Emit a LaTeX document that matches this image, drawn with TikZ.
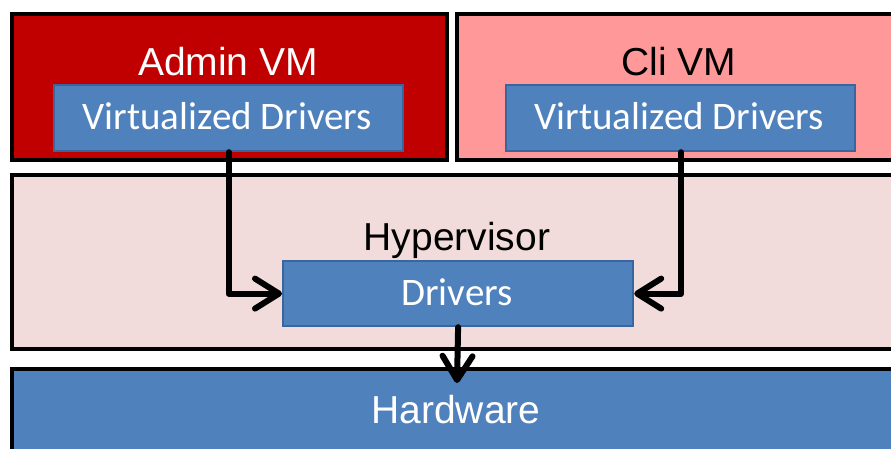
\documentclass[tikz,border=0pt]{standalone}
\usepackage{fontspec}
\setmainfont{Liberation Sans}
\newfontfamily\calib{Carlito}
\usetikzlibrary{arrows.meta}
\definecolor{adminred}{HTML}{C00000}
\definecolor{clipink}{HTML}{FF9999}
\definecolor{hyperpink}{HTML}{F2DCDB}
\definecolor{drvblue}{HTML}{4F81BD}
\definecolor{drvedge}{HTML}{3A66A0}
\tikzset{
  layer/.style={draw=black, line width=3.8pt, anchor=north west, inner sep=0pt},
  drvbox/.style={draw=drvedge, line width=2.2pt, fill=drvblue, anchor=north west,
    inner sep=0pt, minimum width=349pt, minimum height=66pt},
  bigtext/.style={anchor=base, inner sep=0pt, font=\fontsize{39}{41}\selectfont},
  drvtext/.style={bigtext, text=white, font=\calib\fontsize{39}{41}\selectfont},
  flow/.style={line width=6pt, line cap=round, line join=round,
    -{Straight Barb[length=24pt,width=30pt,line cap=round,line join=round]}}
}
\begin{document}
\begin{tikzpicture}[x=1pt,y=-1pt]
  \useasboundingbox (0,0) rectangle (891,448);
  \clip (0,0) rectangle (891,448);
  % layers
  \node[layer, fill=adminred, minimum width=435pt, minimum height=146pt] (admin) at (10,12) {};
  \node[layer, fill=clipink, minimum width=460pt, minimum height=146pt] (cli) at (455,12) {};
  \node[layer, fill=hyperpink, minimum width=900pt, minimum height=174pt] (hyper) at (10,173) {};
  \node[layer, fill=drvblue, minimum width=900pt, minimum height=100pt] (hw) at (10,367) {};
  % layer titles
  \node[bigtext, text=white] (admint) at (228,75) {Admin VM};
  \node[bigtext, text=black] (clit) at (679,75) {Cli VM};
  \node[bigtext, text=black] (hypert) at (457,250) {Hypervisor};
  \node[bigtext, text=white] (hwt) at (456,423) {Hardware};
  % driver boxes
  \node[drvbox] (vda) at (53,84) {};
  \node[drvbox] (vdc) at (505,84) {};
  \node[drvbox, minimum width=350pt, minimum height=65pt] (drv) at (282,260) {};
  \node[drvtext] (vdat) at (227.5,129) {Virtualized Drivers};
  \node[drvtext] (vdct) at (679.5,129) {Virtualized Drivers};
  \node[drvtext] (drvt) at (457,305) {Drivers};
  % data paths
  \coordinate (hwin) at (457,383);
  \draw[flow] (vda.south) -- (vda.south |- drv.west) -- (drv.west);
  \draw[flow] ([xshift=0.5pt]vdc.south) -- ([xshift=0.5pt]vdc.south |- drv.east) -- (drv.east);
  \draw[flow] (drv.south) -- (hwin);
\end{tikzpicture}
\end{document}
